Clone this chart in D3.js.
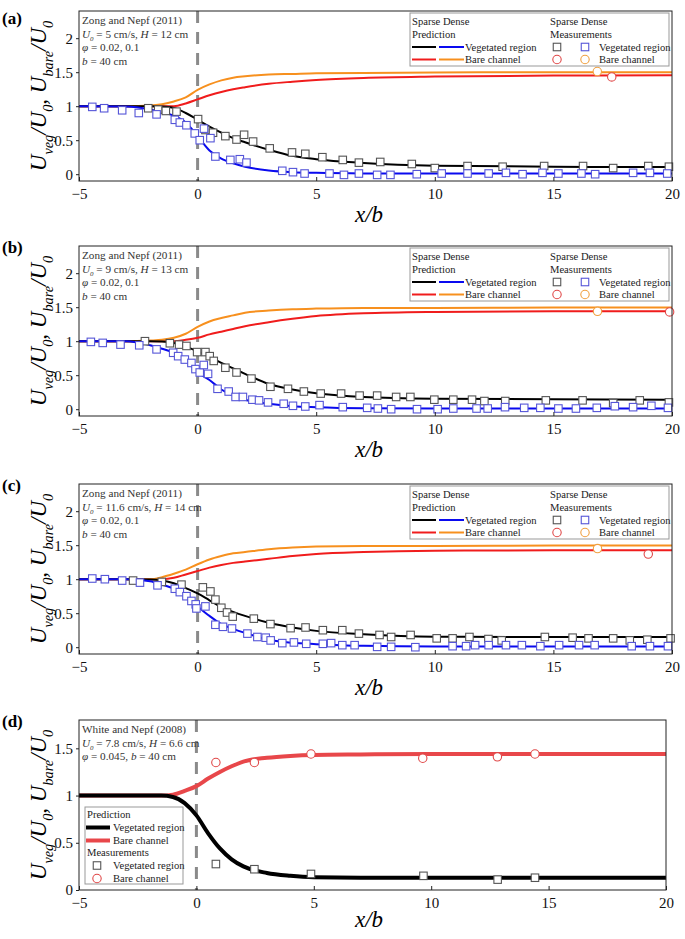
<!DOCTYPE html>
<html><head><meta charset="utf-8">
<script src="https://cdn.jsdelivr.net/npm/d3@7"></script>
<style>body{margin:0;background:#fff} svg{display:block} text{font-family:"Liberation Serif","Times New Roman",serif}</style>
</head><body><svg id="c" width="685" height="939"></svg>
<script>
// ---------- DATA ----------
const xTicks = [-5, 0, 5, 10, 15, 20];
const yTicksABC = [0, 0.5, 1, 1.5, 2];
const yTicksD = [0, 0.5, 1, 1.5];
const predX = [-5, -3, -2, -1.5, -1, -0.5, 0, 0.5, 1, 1.5, 2, 3, 4, 5, 7, 10, 15, 20];

// panel (a)
const aVegSparsePred = [1,1,1,0.995,0.975,0.90,0.80,0.70,0.61,0.53,0.47,0.36,0.27,0.22,0.165,0.125,0.11,0.105];
const aVegDensePred  = [1,0.995,0.95,0.91,0.86,0.76,0.56,0.35,0.23,0.16,0.11,0.055,0.03,0.02,0.012,0.01,0.01,0.01];
const aBareSparsePred= [1,1,1,1,1.0,1.04,1.10,1.16,1.21,1.25,1.28,1.33,1.36,1.385,1.415,1.435,1.45,1.455];
const aBareDensePred = [1,1,1.01,1.03,1.07,1.13,1.24,1.32,1.38,1.42,1.44,1.465,1.475,1.485,1.49,1.495,1.5,1.5];
const aVegSparseMeas = [[-2.08,0.97],[-1.66,0.95],[-1.34,0.93],[-0.89,0.92],[0.02,0.81],[0.33,0.65],[0.65,0.61],[1.17,0.56],[1.64,0.51],[1.96,0.58],[2.34,0.48],[3.04,0.38],[3.98,0.32],[4.54,0.30],[5.26,0.25],[6.12,0.21],[6.80,0.17],[7.70,0.18],[9.03,0.15],[10.0,0.09],[11.38,0.12],[12.86,0.11],[14.61,0.12],[16.25,0.12],[17.52,0.09],[19.0,0.12],[19.87,0.11]];
const aVegDenseMeas = [[-4.44,0.99],[-3.94,0.97],[-3.18,0.94],[-2.48,0.90],[-1.73,0.88],[-0.96,0.80],[-0.75,0.76],[-0.47,0.72],[-0.12,0.60],[0.09,0.50],[0.27,0.67],[0.54,0.53],[0.75,0.26],[1.38,0.21],[1.78,0.22],[2.06,0.17],[3.57,0.05],[4.02,0.03],[4.51,0.01],[5.56,0.01],[6.17,-0.01],[6.80,0.01],[7.57,-0.01],[8.13,-0.01],[9.24,0.0],[10.29,0.01],[11.38,0.01],[12.27,0.01],[13.0,0.02],[13.7,0.0],[14.54,0.02],[15.21,0.01],[16.18,0.01],[16.76,0.0],[18.36,0.02],[19.07,0.02],[19.80,0.01]];
const aBareSparseMeas = [[17.46,1.43]];
const aBareDenseMeas = [[16.85,1.51]];

// panel (b)
const bVegSparsePred = [1,1,1,0.995,0.975,0.92,0.85,0.77,0.68,0.60,0.52,0.37,0.29,0.235,0.18,0.155,0.145,0.14];
const bVegDensePred  = [1,1,0.94,0.89,0.83,0.73,0.54,0.43,0.29,0.20,0.14,0.08,0.045,0.03,0.015,0.01,0.01,0.01];
const bBareSparsePred= [1,1,1,1,1.0,1.02,1.05,1.10,1.14,1.18,1.22,1.28,1.33,1.37,1.41,1.43,1.44,1.44];
const bBareDensePred = [1,1,1.01,1.02,1.05,1.11,1.21,1.29,1.34,1.38,1.42,1.45,1.47,1.48,1.49,1.49,1.495,1.495];
const bVegSparseMeas = [[-2.22,1.0],[-1.17,0.97],[-0.78,0.95],[-0.47,0.93],[-0.02,0.84],[0.33,0.84],[0.51,0.78],[0.68,0.71],[1.17,0.61],[1.64,0.54],[2.27,0.45],[3.07,0.33],[3.81,0.30],[4.48,0.26],[5.19,0.23],[6.05,0.23],[6.83,0.20],[7.57,0.20],[8.37,0.18],[8.97,0.18],[9.98,0.14],[10.78,0.14],[11.57,0.14],[12.09,0.12],[12.97,0.12],[14.68,0.13],[16.23,0.13],[17.52,0.09],[18.64,0.13],[19.87,0.10]];
const bVegDenseMeas = [[-4.5,0.99],[-4.0,0.975],[-3.25,0.95],[-2.46,0.94],[-1.73,0.88],[-1.03,0.83],[-0.82,0.78],[-0.54,0.73],[-0.26,0.68],[-0.09,0.59],[0.09,0.54],[0.26,0.65],[0.44,0.52],[0.84,0.30],[1.31,0.26],[1.60,0.18],[1.91,0.18],[2.31,0.14],[2.59,0.13],[2.97,0.10],[3.63,0.08],[4.02,0.05],[4.54,0.04],[5.14,0.06],[6.12,0.03],[7.15,0.02],[7.60,0.01],[8.16,0.0],[9.25,0.0],[10.12,0.0],[10.78,0.01],[11.76,0.01],[12.23,0.01],[12.96,0.03],[13.77,0.02],[14.45,0.02],[15.21,0.01],[15.95,0.01],[16.83,0.02],[17.59,0.044],[18.36,0.03],[19.13,0.05],[19.83,0.02]];
const bBareSparseMeas = [[19.9,1.43]];
const bBareDenseMeas = [[16.86,1.44]];

// panel (c)
const cVegSparsePred = [1,1,0.995,0.98,0.94,0.87,0.79,0.69,0.59,0.52,0.46,0.36,0.29,0.24,0.19,0.155,0.15,0.15];
const cVegDensePred  = [1,1,0.97,0.92,0.86,0.75,0.60,0.46,0.34,0.27,0.21,0.11,0.065,0.045,0.02,0.01,0.01,0.01];
const cBareSparsePred= [1,1,1,1,1.02,1.07,1.12,1.17,1.21,1.24,1.26,1.30,1.34,1.37,1.40,1.42,1.425,1.425];
const cBareDensePred = [1,1,1.0,1.03,1.08,1.14,1.22,1.29,1.34,1.38,1.40,1.44,1.465,1.48,1.49,1.49,1.495,1.495];
const cVegSparseMeas = [[-2.72,0.98],[-1.51,0.96],[-0.68,0.92],[0.22,0.88],[0.54,0.82],[0.75,0.70],[1.0,0.58],[1.24,0.51],[1.48,0.45],[2.37,0.42],[3.07,0.34],[3.92,0.28],[4.55,0.29],[5.28,0.25],[6.10,0.25],[6.80,0.20],[7.67,0.18],[8.16,0.15],[8.98,0.18],[10.08,0.13],[10.75,0.13],[11.46,0.15],[12.26,0.12],[12.82,0.10],[14.64,0.15],[15.81,0.14],[16.48,0.13],[17.52,0.13],[18.22,0.10],[18.96,0.11],[19.94,0.13]];
const cVegDenseMeas = [[-4.44,1.01],[-3.91,1.0],[-3.18,0.98],[-2.43,0.95],[-1.69,0.91],[-0.96,0.86],[-0.75,0.81],[-0.47,0.75],[-0.26,0.68],[-0.08,0.63],[-0.05,0.57],[0.33,0.60],[0.75,0.33],[1.07,0.30],[1.45,0.275],[2.10,0.20],[2.52,0.15],[2.87,0.14],[3.08,0.10],[3.57,0.06],[4.06,0.07],[4.58,0.05],[5.28,0.05],[5.63,0.06],[6.10,0.03],[6.62,0.03],[7.57,0.005],[8.16,0.005],[9.18,0.0],[10.75,0.015],[11.32,0.015],[11.70,0.03],[12.27,0.03],[13.0,0.03],[13.67,0.03],[14.45,0.015],[15.24,0.03],[16.08,0.03],[16.74,0.03],[18.30,0.015],[19.07,0.015],[19.83,0.015]];
const cBareSparseMeas = [[19.0,1.37]];
const cBareDenseMeas = [[16.86,1.45]];

// panel (d)
const dVegPred  = [1,1,1,1,0.985,0.92,0.79,0.60,0.44,0.325,0.25,0.18,0.15,0.135,0.13,0.13,0.13,0.13];
const dBarePred = [1,1,1,1,1.01,1.05,1.10,1.18,1.25,1.31,1.36,1.40,1.42,1.43,1.435,1.44,1.44,1.44];
const dVegMeas  = [[0.83,0.275],[2.47,0.22],[4.88,0.17],[9.67,0.15],[12.83,0.11],[14.42,0.13]];
const dBareMeas = [[0.83,1.35],[2.47,1.35],[4.88,1.44],[9.64,1.395],[12.82,1.41],[14.42,1.44]];

// ---------- STYLE ----------
const C = {black:"#000", blue:"#0a0aef", red:"#f01c1c", orange:"#f7901e",
  sqBlack:"#555", sqBlue:"#5555d8", cRed:"#e04848", cOrange:"#f0a040", dRed:"#e8474a"};

const svg = d3.select("#c");

function rich(sel, segs, size){
  let shift = 0;
  segs.forEach(s=>{
    const ts = sel.append("tspan").text(s.t);
    if(s.i) ts.attr("font-style","italic");
    const target = s.sub ? size*0.3 : 0;
    ts.attr("dy", target - shift);
    shift = target;
    if(s.sub) ts.attr("font-size", size*0.62);
  });
}

function drawSquare(g, x, y, stroke, s){
  g.append("rect").attr("x", x-s/2).attr("y", y-s/2).attr("width", s).attr("height", s)
   .attr("fill","#fff").attr("stroke", stroke).attr("stroke-width",1.1);
}
function drawCircle(g, x, y, stroke, r){
  g.append("circle").attr("cx", x).attr("cy", y).attr("r", r)
   .attr("fill","#fff").attr("stroke", stroke).attr("stroke-width",1.1);
}

const panels = [
  {label:"(a)", top:11, bottom:181, left:79, right:672, yDomain:[-0.1,2.4], yTicks:yTicksABC,
   note:[[{t:"Zong and Nepf (2011)"}],
         [{t:"U",i:1},{t:"0",i:1,sub:1},{t:" = 5 cm/s, "},{t:"H",i:1},{t:" = 12 cm"}],
         [{t:"φ",i:1},{t:" = 0.02, 0.1"}],
         [{t:"b",i:1},{t:" = 40 cm"}]],
   lines:[[aBareSparsePred,C.red],[aBareDensePred,C.orange],[aVegSparsePred,C.black],[aVegDensePred,C.blue]], lw:2,
   squares:[[aVegSparseMeas,C.sqBlack],[aVegDenseMeas,C.sqBlue]],
   circles:[[aBareSparseMeas,C.cRed],[aBareDenseMeas,C.cOrange]], legend:"four"},
  {label:"(b)", top:246, bottom:416, left:79, right:672, yDomain:[-0.1,2.4], yTicks:yTicksABC,
   note:[[{t:"Zong and Nepf (2011)"}],
         [{t:"U",i:1},{t:"0",i:1,sub:1},{t:" = 9 cm/s, "},{t:"H",i:1},{t:" = 13 cm"}],
         [{t:"φ",i:1},{t:" = 0.02, 0.1"}],
         [{t:"b",i:1},{t:" = 40 cm"}]],
   lines:[[bBareSparsePred,C.red],[bBareDensePred,C.orange],[bVegSparsePred,C.black],[bVegDensePred,C.blue]], lw:2,
   squares:[[bVegSparseMeas,C.sqBlack],[bVegDenseMeas,C.sqBlue]],
   circles:[[bBareSparseMeas,C.cRed],[bBareDenseMeas,C.cOrange]], legend:"four"},
  {label:"(c)", top:484, bottom:654, left:79, right:672, yDomain:[-0.1,2.4], yTicks:yTicksABC,
   note:[[{t:"Zong and Nepf (2011)"}],
         [{t:"U",i:1},{t:"0",i:1,sub:1},{t:" = 11.6 cm/s, "},{t:"H",i:1},{t:" = 14 cm"}],
         [{t:"φ",i:1},{t:" = 0.02, 0.1"}],
         [{t:"b",i:1},{t:" = 40 cm"}]],
   lines:[[cBareSparsePred,C.red],[cBareDensePred,C.orange],[cVegSparsePred,C.black],[cVegDensePred,C.blue]], lw:2,
   squares:[[cVegSparseMeas,C.sqBlack],[cVegDenseMeas,C.sqBlue]],
   circles:[[cBareSparseMeas,C.cRed],[cBareDenseMeas,C.cOrange]], legend:"four"},
  {label:"(d)", top:720, bottom:890, left:79, right:666, yDomain:[0,1.8], yTicks:yTicksD,
   note:[[{t:"White and Nepf (2008)"}],
         [{t:"U",i:1},{t:"0",i:1,sub:1},{t:" = 7.8 cm/s, "},{t:"H",i:1},{t:" = 6.6 cm"}],
         [{t:"φ",i:1},{t:" = 0.045, "},{t:"b",i:1},{t:" = 40 cm"}]],
   lines:[[dBarePred,C.dRed],[dVegPred,C.black]], lw:4,
   squares:[[dVegMeas,C.sqBlack]],
   circles:[[dBareMeas,C.cRed]], legend:"two"}
];

panels.forEach(p=>{
  const x = d3.scaleLinear().domain([-5,20]).range([p.left,p.right]);
  const y = d3.scaleLinear().domain(p.yDomain).range([p.bottom,p.top]);
  const g = svg.append("g");

  // zero dashed line
  g.append("line").attr("x1",x(0)).attr("x2",x(0)).attr("y1",p.top).attr("y2",p.bottom)
   .attr("stroke","#8a8a8a").attr("stroke-width",3).attr("stroke-dasharray","12,9");

  // prediction curves
  const line = d3.line().x((d,i)=>x(predX[i])).y(d=>y(d)).curve(d3.curveMonotoneX);
  p.lines.forEach(([vals,col])=>{
    g.append("path").attr("d", line(vals)).attr("fill","none").attr("stroke",col).attr("stroke-width",p.lw);
  });

  // measurements
  p.squares.forEach(([pts,col])=>pts.forEach(d=>drawSquare(g,x(d[0]),y(d[1]),col,7.5)));
  p.circles.forEach(([pts,col])=>pts.forEach(d=>drawCircle(g,x(d[0]),y(d[1]),col,4.2)));

  // axes
  const ax = g.append("g").attr("transform",`translate(0,${p.bottom})`)
    .call(d3.axisBottom(x).tickValues(xTicks).tickSize(-4).tickPadding(7).tickFormat(d3.format("d")));
  const ay = g.append("g").attr("transform",`translate(${p.left},0)`)
    .call(d3.axisLeft(y).tickValues(p.yTicks).tickSize(3).tickPadding(3).tickFormat(d=>String(d)));
  [ax,ay].forEach(a=>{
    a.select(".domain").remove();
    a.attr("font-family",'"Liberation Serif","Times New Roman",serif').attr("font-size",15);
    a.selectAll("line").attr("stroke","#222");
    a.selectAll("text").attr("fill","#111");
  });
  // frame
  g.append("rect").attr("x",p.left).attr("y",p.top).attr("width",p.right-p.left).attr("height",p.bottom-p.top)
   .attr("fill","none").attr("stroke","#222").attr("stroke-width",1);

  // labels
  g.append("text").attr("x",2).attr("y",p.top+(p.label==="(a)"?7:1)).attr("dy","0.35em")
   .attr("font-weight","bold").attr("font-size",17).text(p.label);
  const xl = g.append("text").attr("x",369).attr("y",p.bottom+(p.legend==="two"?37:41))
   .attr("text-anchor","middle").attr("font-size",23).attr("font-style","italic").text("x/b");
  const yl = g.append("text").attr("transform",`translate(46,${(p.top+p.bottom)/2}) rotate(-90)`)
   .attr("text-anchor","middle").attr("font-size",23).attr("font-style","italic");
  rich(yl,[{t:"U"},{t:"veg",sub:1},{t:"/U"},{t:"0",sub:1},{t:", U"},{t:"bare",sub:1},{t:"/U"},{t:"0",sub:1}],23);

  // note
  p.note.forEach((segs,i)=>{
    const t = g.append("text").attr("x",p.left+3).attr("y",p.top+13+i*13.6)
      .attr("font-size",11.2).attr("fill","#333");
    rich(t,segs,11.2);
  });

  // legend
  const fs = 10.6;
  if(p.legend==="four"){
    const bx = p.right-262, by = p.top+2;
    const lg = g.append("g");
    lg.append("rect").attr("x",bx).attr("y",by).attr("width",259).attr("height",53)
      .attr("fill","#fff").attr("stroke","#999").attr("stroke-width",1);
    const rows = [by+12, by+25, by+37.5, by+50];
    const txt = (tx,ty,s)=>lg.append("text").attr("x",tx).attr("y",ty).attr("font-size",fs).attr("fill","#222").text(s);
    txt(bx+2,rows[0],"Sparse Dense"); txt(bx+2,rows[1],"Prediction");
    txt(bx+140,rows[0],"Sparse Dense"); txt(bx+140,rows[1],"Measurements");
    const seg=(x1,x2,yy,col)=>lg.append("line").attr("x1",x1).attr("x2",x2).attr("y1",yy).attr("y2",yy).attr("stroke",col).attr("stroke-width",2);
    seg(bx+2,bx+26,rows[2]-3.5,C.black); seg(bx+29,bx+54,rows[2]-3.5,C.blue);
    seg(bx+2,bx+26,rows[3]-3.5,C.red); seg(bx+29,bx+54,rows[3]-3.5,C.orange);
    txt(bx+55,rows[2],"Vegetated region"); txt(bx+55,rows[3],"Bare channel");
    drawSquare(lg,bx+147,rows[2]-3.5,C.sqBlack,7.5); drawSquare(lg,bx+175,rows[2]-3.5,C.sqBlue,7.5);
    drawCircle(lg,bx+147,rows[3]-3.5,C.cRed,4.2); drawCircle(lg,bx+175,rows[3]-3.5,C.cOrange,4.2);
    txt(bx+189,rows[2],"Vegetated region"); txt(bx+189,rows[3],"Bare channel");
  } else {
    const bx = 85, by = 807;
    const lg = g.append("g");
    lg.append("rect").attr("x",bx).attr("y",by).attr("width",98).attr("height",77)
      .attr("fill","#fff").attr("stroke","#999").attr("stroke-width",1);
    const rows = [818,831,844,856,869,882];
    const txt = (tx,ty,s)=>lg.append("text").attr("x",tx).attr("y",ty).attr("font-size",fs).attr("fill","#222").text(s);
    txt(bx+2,rows[0],"Prediction");
    lg.append("line").attr("x1",bx+1).attr("x2",bx+25).attr("y1",rows[1]-3.5).attr("y2",rows[1]-3.5).attr("stroke",C.black).attr("stroke-width",4);
    lg.append("line").attr("x1",bx+1).attr("x2",bx+25).attr("y1",rows[2]-3.5).attr("y2",rows[2]-3.5).attr("stroke",C.dRed).attr("stroke-width",4);
    txt(bx+28,rows[1],"Vegetated region"); txt(bx+28,rows[2],"Bare channel");
    txt(bx+2,rows[3],"Measurements");
    drawSquare(lg,bx+12,rows[4]-3.5,C.sqBlack,7.5); drawCircle(lg,bx+12,rows[5]-3.5,C.cRed,4.2);
    txt(bx+28,rows[4],"Vegetated region"); txt(bx+28,rows[5],"Bare channel");
  }
});
</script>
</body></html>
